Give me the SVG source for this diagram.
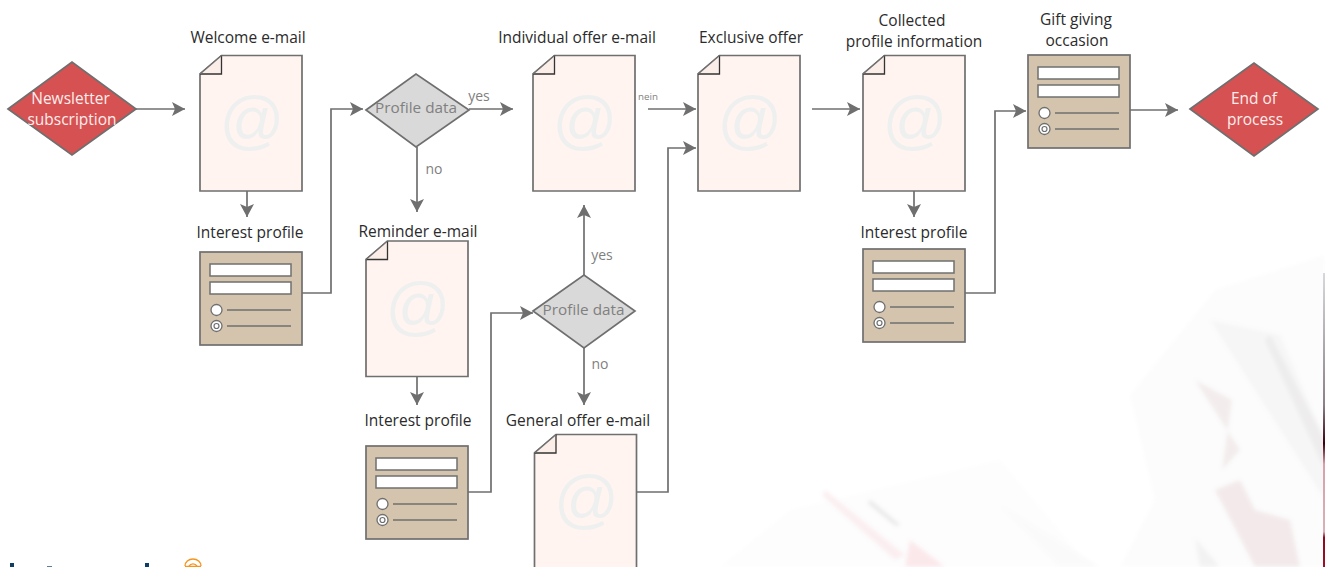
<svg xmlns="http://www.w3.org/2000/svg" width="1325" height="567" viewBox="0 0 1325 567">
<style>
text{font-family:"Open Sans","Noto Sans",sans-serif;font-size:15.500px;text-anchor:middle;fill:#2b2b2b}
.w{fill:#fdeeee;font-size:15.500px}
.g{fill:#808080;font-size:15.300px}
.s{fill:#808080;font-size:14px}
.c{fill:none;stroke:#6f6f6f;stroke-width:1.700}
.at{fill:#eef0f0;font-size:64px;font-family:"Liberation Sans",sans-serif}
.sh{stroke:#6f6f6f;stroke-width:1.700}
</style>
<defs>
<marker id="a" markerUnits="userSpaceOnUse" markerWidth="14" markerHeight="14" refX="13" refY="7" orient="auto"><path d="M0 0L13 7L0 14L3 7Z" fill="#6f6f6f"/></marker>
<filter id="b" x="-10%" y="-10%" width="120%" height="120%"><feGaussianBlur stdDeviation="2"/></filter>
<g id="doc">
<path class="sh" d="M21.500 0.500H102V136H0V19Z" fill="#fff4f0"/>
<path d="M0 19L21.500 0.500V19Z" fill="#fbeee8"/>
<path d="M0 19H21.500V0.500" fill="none" stroke="#333" stroke-width="1.300"/>
<path d="M0 19L21.500 0.500" fill="none" stroke="#6f6f6f" stroke-width="1.300"/>
<text class="at" x="52" y="87">@</text>
</g>
<g id="form">
<rect class="sh" width="102" height="93" fill="#d4c4ad"/>
<rect x="10" y="12" width="81" height="12" fill="#fff" stroke="#6f6f6f" stroke-width="1.500"/>
<rect x="10" y="30" width="81" height="12" fill="#fff" stroke="#6f6f6f" stroke-width="1.500"/>
<circle cx="16.500" cy="58" r="5.500" fill="#fff" stroke="#6f6f6f" stroke-width="1.300"/>
<circle cx="16.500" cy="74" r="5.500" fill="#fff" stroke="#6f6f6f" stroke-width="1.300"/>
<circle cx="16.500" cy="74" r="2.500" fill="none" stroke="#6f6f6f" stroke-width="1.200"/>
<path d="M27 58H91M27 74H91" stroke="#6f6f6f" stroke-width="1.300"/>
</g>
<linearGradient id="f" x1="0" y1="0" x2="0" y2="1"><stop offset="0" stop-color="#d8d8dc"/><stop offset=".45" stop-color="#8a8088"/><stop offset=".58" stop-color="#3a0010"/><stop offset=".65" stop-color="#d9a0aa"/><stop offset=".88" stop-color="#d9b0b8"/><stop offset=".9" stop-color="#8a0a20"/><stop offset="1" stop-color="#a01028"/></linearGradient>
</defs>

<g id="background">
<g filter="url(#b)">
<path d="M1130 395L1215 290L1325 255V567H1120L1155 500Z" fill="#fcfcfc"/>
<path d="M1210 320L1325 500V440L1280 335Z" fill="#f6f6f6"/>
<path d="M1195 380L1240 450L1222 470L1232 400Z" fill="#f3ecec"/>
<path d="M1215 490L1255 567H1300L1290 520L1255 510L1240 480Z" fill="#f3e9ea"/>
<path d="M1270 335L1325 440V470L1265 340Z" fill="#eeecec"/>
<path d="M1195 538L1220 567H1200Z" fill="#f2f2f2"/>
<path d="M790 510L1000 460L1090 567H720Z" fill="#fdfdfd"/>
<path d="M825 490L905 555L895 560L822 495Z" fill="#fbeef0"/>
<path d="M870 500L900 525L896 526L868 503Z" fill="#e4e4e4"/>
<path d="M910 540L945 567H905Z" fill="#fbe8eb"/>
<path d="M1000 505L1100 567H1060Z" fill="#fafafa"/>
</g>
<path d="M1323 273H1325V567H1323Z" fill="url(#f)"/>
</g>

<g id="logo">
<rect x="10" y="563" width="4" height="4" fill="#0e3d66"/>
<rect x="145" y="563" width="4" height="4" fill="#0e3d66"/>
<rect x="47" y="566" width="5" height="1" fill="#5d7d98"/>
<path d="M185 566.500H201M185 566A8 7 0 0 1 201 566M189 566A4.500 4 0 0 1 197 566" fill="none" stroke="#f7941e" stroke-width="1.400"/>
</g>

<g id="connectors" class="c">
<path marker-end="url(#a)" d="M136 109H185"/>
<path marker-end="url(#a)" d="M247 191V217"/>
<path marker-end="url(#a)" d="M302 293H331V109H363"/>
<path marker-end="url(#a)" d="M469 109H513"/>
<path marker-end="url(#a)" d="M417 147V212"/>
<path marker-end="url(#a)" d="M417 376V405"/>
<path marker-end="url(#a)" d="M468 492H491V313H533"/>
<path marker-end="url(#a)" d="M584 275V205"/>
<path marker-end="url(#a)" d="M584 348V405"/>
<path marker-end="url(#a)" d="M636 492H668V148H696"/>
<path marker-end="url(#a)" d="M648 109H696"/>
<path marker-end="url(#a)" d="M812 109H860"/>
<path marker-end="url(#a)" d="M914 191V217"/>
<path marker-end="url(#a)" d="M965 293H995V111H1026"/>
<path marker-end="url(#a)" d="M1130 110H1178"/>
</g>

<g id="start">
<path class="sh" d="M8 109L72 62L136 109L72 155Z" fill="#d65151"/>
<text class="w" x="70.500" y="104">Newsletter</text><text class="w" x="72" y="125">subscription</text>
</g>
<g id="welcome"><use href="#doc" x="200" y="55"/><text x="248" y="43">Welcome e-mail</text></g>
<g id="profile1"><use href="#form" x="200" y="252"/><text x="250" y="238">Interest profile</text></g>
<g id="decision1">
<path class="sh" d="M366 110L416 74L469 110L416 147Z" fill="#d9d9d9"/>
<text class="g" x="416" y="113">Profile data</text>
<text class="s" x="479" y="101">yes</text><text class="s" x="434" y="174">no</text>
</g>
<g id="individual"><use href="#doc" x="533" y="55"/><text x="577" y="43">Individual offer e-mail</text><text class="s" x="648" y="100" style="font-size:9.800px">nein</text></g>
<g id="reminder"><use href="#doc" x="366" y="240.500"/><text x="418" y="237">Reminder e-mail</text></g>
<g id="profile2"><use href="#form" x="366" y="446"/><text x="418" y="426">Interest profile</text></g>
<g id="decision2">
<path class="sh" d="M533 311L584 275L635 311L584 348Z" fill="#d9d9d9"/>
<text class="g" x="583.500" y="315">Profile data</text>
<text class="s" x="602" y="260">yes</text><text class="s" x="600" y="369">no</text>
</g>
<g id="general"><use href="#doc" x="534.500" y="434"/><text x="578" y="426">General offer e-mail</text></g>
<g id="exclusive"><use href="#doc" x="698" y="55"/><text x="751" y="43">Exclusive offer</text></g>
<g id="collected"><use href="#doc" x="863" y="55"/><text x="912" y="26">Collected</text><text x="914" y="47">profile information</text></g>
<g id="profile3"><use href="#form" x="863" y="249"/><text x="914" y="238">Interest profile</text></g>
<g id="gift"><use href="#form" x="1028" y="55"/><text x="1076" y="25">Gift giving</text><text x="1077" y="46">occasion</text></g>
<g id="end">
<path class="sh" d="M1190 109L1254 63L1318 109L1254 156Z" fill="#d65151"/>
<text class="w" x="1254" y="104">End of</text><text class="w" x="1255" y="125">process</text>
</g>
</svg>
